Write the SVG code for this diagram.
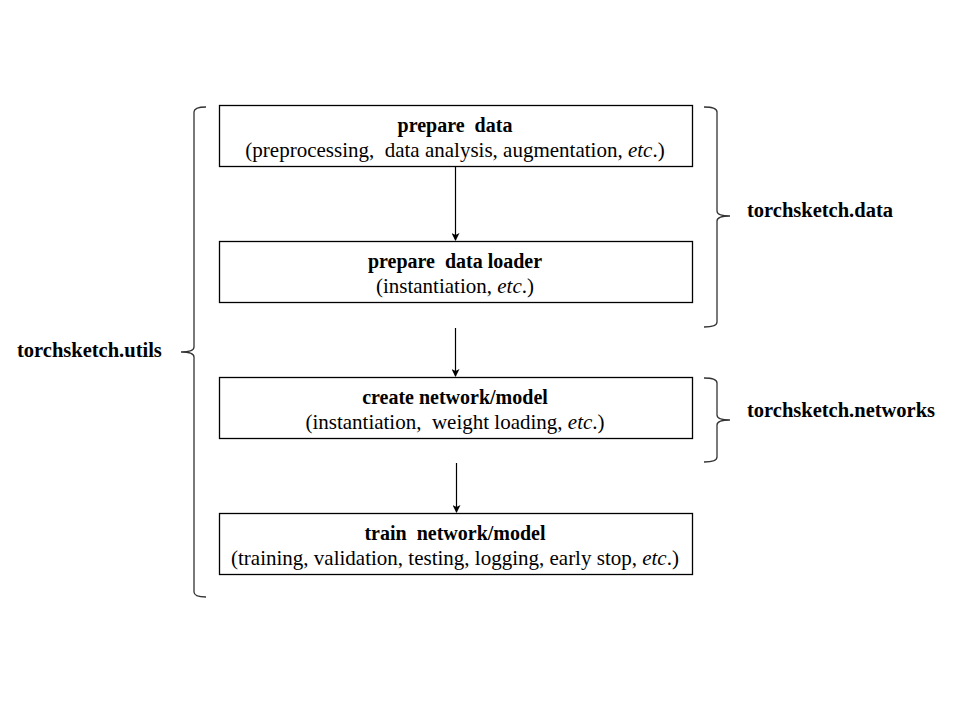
<svg xmlns="http://www.w3.org/2000/svg" width="960" height="720" viewBox="0 0 960 720">
<style>
.box{fill:#fff;stroke:#000;stroke-width:1.3}
.t{font-family:"Liberation Serif",serif;font-size:21px;fill:#000;text-anchor:middle;white-space:pre}
.b{font-weight:bold;font-size:20px}
.lab{font-family:"Liberation Serif",serif;font-size:20.5px;font-weight:bold;fill:#000}
.br{fill:none;stroke:#333;stroke-width:1.3}
.ar{stroke:#000;stroke-width:1.2;fill:none}
</style>
<defs>
<marker id="ah" markerWidth="8" markerHeight="8" refX="7" refY="4" orient="auto" markerUnits="userSpaceOnUse">
<path d="M0,0 L8,4 L0,8 L2,4 z" fill="#000"/>
</marker>
</defs>
<rect width="960" height="720" fill="#fff"/>
<g id="connectors">
<line class="ar" x1="455.5" y1="166" x2="455.5" y2="240" marker-end="url(#ah)"/>
<line class="ar" x1="455.5" y1="328" x2="455.5" y2="376" marker-end="url(#ah)"/>
<line class="ar" x1="456.5" y1="463" x2="456.5" y2="512" marker-end="url(#ah)"/>
</g>
<g id="node1">
<rect class="box" x="219.5" y="105.5" width="473" height="61"/>
<text class="t b" x="455" y="132" xml:space="preserve">prepare  data</text>
<text class="t" x="455" y="157" xml:space="preserve">(preprocessing,  data analysis, augmentation, <tspan font-style="italic">etc</tspan>.)</text>
</g>
<g id="node2">
<rect class="box" x="219.5" y="241.5" width="473" height="61"/>
<text class="t b" x="455" y="268" xml:space="preserve">prepare  data loader</text>
<text class="t" x="455" y="293">(instantiation, <tspan font-style="italic">etc</tspan>.)</text>
</g>
<g id="node3">
<rect class="box" x="219.5" y="377.5" width="473" height="61"/>
<text class="t b" x="455" y="404">create network/model</text>
<text class="t" x="455" y="429" xml:space="preserve">(instantiation,  weight loading, <tspan font-style="italic">etc</tspan>.)</text>
</g>
<g id="node4">
<rect class="box" x="219.5" y="513.5" width="473" height="61"/>
<text class="t b" x="455" y="540" xml:space="preserve">train  network/model</text>
<text class="t" x="455" y="565">(training, validation, testing, logging, early stop, <tspan font-style="italic">etc</tspan>.)</text>
</g>
<g id="brace-utils">
<path class="br" d="M206,107 Q194,107 194,112 L194,347 Q194,352 181,352 Q194,352 194,357 L194,592 Q194,597 206,597"/>
<text class="lab" x="17" y="357">torchsketch.utils</text>
</g>
<g id="brace-data">
<path class="br" d="M704,107 Q717,107 717,112 L717,211 Q717,216 730,216 Q717,216 717,221 L717,322 Q717,327 704,327"/>
<text class="lab" x="747" y="217">torchsketch.data</text>
</g>
<g id="brace-networks">
<path class="br" d="M704,378 Q717,378 717,383 L717,415 Q717,420 730,420 Q717,420 717,425 L717,457 Q717,462 704,462"/>
<text class="lab" x="747" y="417">torchsketch.networks</text>
</g>
</svg>
